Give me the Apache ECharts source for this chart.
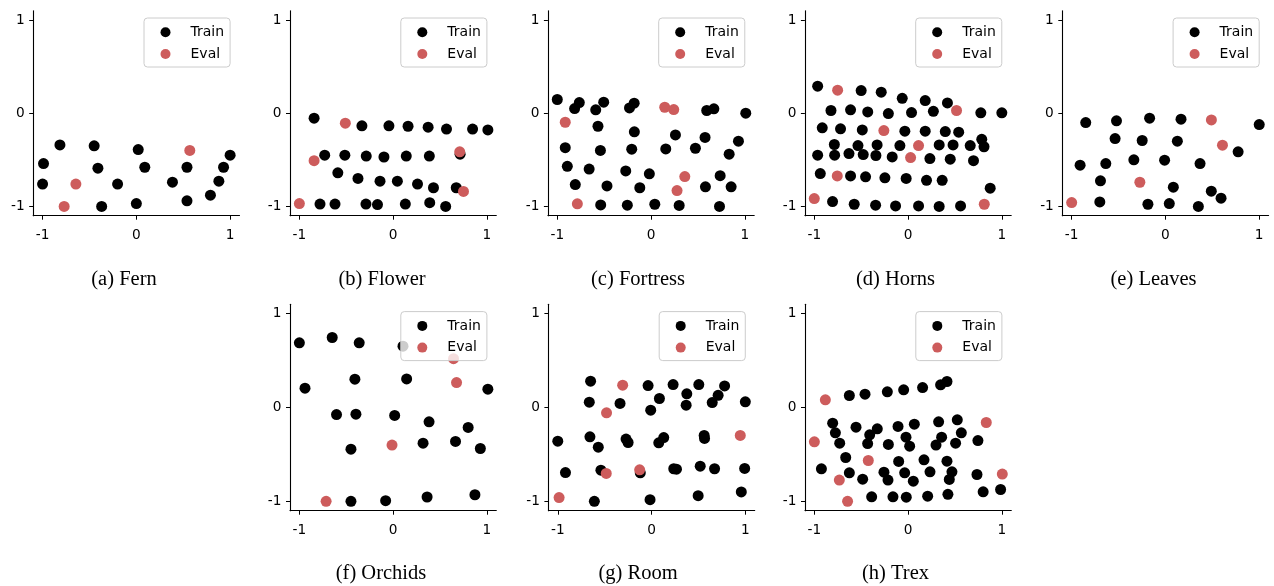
<!DOCTYPE html>
<html>
<head>
<meta charset="utf-8">
<script src="https://cdn.jsdelivr.net/npm/echarts@6/dist/echarts.min.js"></script>
<style>
  html, body { margin: 0; padding: 0; background: #fff; }
  #chart { width: 1274px; height: 586px; }
</style>
</head>
<body>
<div id="chart"></div>
<script>
// ---------- data ----------
const panelNames = ['(a) Fern', '(b) Flower', '(c) Fortress', '(d) Horns', '(e) Leaves', '(f) Orchids', '(g) Room', '(h) Trex'];
const tickValues = [-1, 0, 1];
const legendLabels = ['Train', 'Eval'];

const fernTrain = [[-1.0,-0.76],[-0.99,-0.54],[-0.815,-0.34],[-0.45,-0.35],[-0.41,-0.59],[-0.37,-1.0],[-0.20,-0.76],[0.02,-0.39],[0.0,-0.97],[0.09,-0.58],[0.385,-0.74],[0.54,-0.58],[0.54,-0.94],[0.79,-0.88],[0.88,-0.73],[0.93,-0.58],[1.0,-0.45]];
const fernEval = [[-0.645,-0.76],[-0.77,-1.0],[0.57,-0.40]];

const flowerTrain = [[-0.843,-0.054],[-0.333,-0.136],[-0.045,-0.136],[0.159,-0.14],[0.373,-0.15],[0.569,-0.17],[0.847,-0.17],[1.01,-0.18],[-0.73,-0.45],[-0.515,-0.45],[-0.287,-0.46],[-0.098,-0.47],[0.14,-0.46],[0.386,-0.46],[0.714,-0.44],[-0.59,-0.64],[-0.375,-0.70],[-0.14,-0.73],[0.045,-0.73],[0.26,-0.76],[0.43,-0.80],[0.673,-0.80],[-0.78,-0.975],[-0.62,-0.975],[-0.29,-0.975],[-0.167,-0.98],[0.13,-0.975],[0.39,-0.96],[0.56,-1.0]];
const flowerEval = [[-1.0,-0.97],[-0.843,-0.51],[-0.51,-0.107],[0.71,-0.415],[0.75,-0.84]];

const fortressTrain = [[-1.0,0.147],[-0.815,0.05],[-0.765,0.114],[-0.59,0.036],[-0.505,0.118],[-0.23,0.057],[-0.18,0.107],[0.594,0.029],[0.67,0.047],[1.01,0.0],[-0.566,-0.14],[-0.178,-0.20],[0.26,-0.233],[0.576,-0.26],[0.932,-0.30],[-0.915,-0.37],[-0.54,-0.40],[-0.206,-0.386],[0.157,-0.383],[0.473,-0.376],[0.833,-0.44],[-0.893,-0.57],[-0.66,-0.60],[-0.27,-0.62],[-0.018,-0.65],[0.737,-0.67],[-0.808,-0.766],[-0.47,-0.78],[-0.12,-0.80],[0.58,-0.79],[0.854,-0.79],[-0.537,-0.984],[-0.253,-0.987],[0.04,-0.977],[0.30,-0.99],[0.73,-1.0]];
const fortressEval = [[-0.915,-0.097],[-0.786,-0.973],[0.146,0.064],[0.242,0.039],[0.36,-0.68],[0.277,-0.83]];

const hornsTrain = [[-0.964,0.29],[-0.50,0.243],[-0.286,0.225],[-0.062,0.16],[0.183,0.136],[0.42,0.11],[-0.822,0.029],[-0.613,0.036],[-0.43,0.014],[-0.21,-0.004],[0.037,0.007],[0.27,0.02],[0.776,0.004],[1.0,0.004],[-0.915,-0.157],[-0.72,-0.168],[-0.488,-0.179],[-0.034,-0.193],[0.183,-0.193],[0.397,-0.197],[0.54,-0.204],[0.786,-0.28],[-0.786,-0.336],[-0.534,-0.347],[-0.33,-0.34],[-0.087,-0.347],[0.332,-0.34],[0.48,-0.34],[0.663,-0.347],[0.81,-0.36],[-0.964,-0.45],[-0.783,-0.45],[-0.63,-0.433],[-0.478,-0.444],[-0.343,-0.454],[-0.169,-0.469],[0.233,-0.487],[0.45,-0.494],[0.698,-0.51],[-0.936,-0.648],[-0.613,-0.673],[-0.453,-0.683],[-0.247,-0.694],[-0.02,-0.70],[0.197,-0.72],[0.364,-0.72],[0.876,-0.805],[-0.805,-0.948],[-0.574,-0.977],[-0.346,-0.987],[-0.133,-0.995],[0.112,-0.995],[0.332,-1.0],[0.56,-0.995]];
const hornsEval = [[-1.0,-0.916],[-0.751,0.247],[-0.258,-0.186],[0.112,-0.347],[0.027,-0.476],[-0.755,-0.673],[0.517,0.029],[0.813,-0.977]];

const leavesTrain = [[-0.85,-0.10],[-0.522,-0.082],[-0.169,-0.054],[0.166,-0.064],[1.0,-0.122],[-0.537,-0.272],[-0.248,-0.293],[0.127,-0.30],[0.775,-0.415],[-0.91,-0.558],[-0.636,-0.54],[-0.337,-0.50],[-0.009,-0.504],[0.369,-0.54],[-0.693,-0.726],[0.084,-0.794],[-0.70,-0.952],[-0.187,-0.977],[0.041,-0.97],[0.351,-1.0],[0.489,-0.837],[0.593,-0.912]];
const leavesEval = [[-1.0,-0.959],[-0.273,-0.741],[0.49,-0.072],[0.608,-0.343]];

const orchidsTrain = [[-1.0,0.69],[-0.65,0.746],[-0.362,0.69],[0.105,0.654],[-0.94,0.206],[-0.408,0.302],[0.144,0.305],[1.01,0.195],[-0.604,-0.075],[-0.397,-0.071],[0.016,-0.085],[0.383,-0.153],[0.80,-0.213],[-0.45,-0.444],[0.319,-0.38],[0.665,-0.362],[0.93,-0.437],[-0.45,-1.0],[-0.08,-0.993],[0.362,-0.954],[0.872,-0.93]];
const orchidsEval = [[-0.715,-1.0],[-0.012,-0.40],[0.644,0.52],[0.676,0.266]];

const roomTrain = [[-0.65,0.28],[-0.664,0.057],[-0.336,0.043],[-0.037,0.234],[-0.009,-0.028],[0.084,0.096],[0.23,0.245],[0.376,0.146],[0.369,0.025],[0.504,0.245],[0.647,0.053],[0.71,0.13],[0.779,0.23],[1.0,0.06],[-1.0,-0.359],[-0.657,-0.313],[-0.568,-0.423],[-0.272,-0.337],[-0.25,-0.373],[0.077,-0.377],[0.13,-0.32],[0.561,-0.298],[0.565,-0.33],[-0.918,-0.693],[-0.54,-0.668],[-0.12,-0.696],[0.237,-0.653],[0.266,-0.657],[0.519,-0.625],[0.672,-0.653],[0.993,-0.65],[-0.61,-1.0],[-0.016,-0.982],[0.497,-0.94],[0.957,-0.90]];
const roomEval = [[-0.986,-0.96],[-0.308,0.238],[-0.48,-0.057],[-0.483,-0.703],[-0.127,-0.664],[0.946,-0.298]];

const trexTrain = [[-0.627,0.128],[-0.46,0.142],[-0.222,0.167],[-0.048,0.188],[0.154,0.213],[0.346,0.242],[0.414,0.277],[-0.805,-0.167],[-0.776,-0.27],[-0.73,-0.38],[-0.556,-0.21],[-0.41,-0.291],[-0.432,-0.384],[-0.329,-0.227],[-0.211,-0.394],[-0.108,-0.202],[-0.023,-0.316],[0.016,-0.412],[0.066,-0.178],[0.325,-0.153],[0.357,-0.316],[0.297,-0.401],[0.524,-0.131],[0.567,-0.27],[0.506,-0.38],[0.744,-0.352],[-0.925,-0.654],[-0.666,-0.533],[-0.627,-0.696],[-0.485,-0.764],[-0.258,-0.689],[-0.215,-0.774],[-0.101,-0.575],[-0.037,-0.696],[0.055,-0.785],[0.169,-0.558],[0.233,-0.686],[0.414,-0.572],[0.467,-0.686],[0.439,-0.767],[0.734,-0.714],[-0.389,-0.952],[-0.162,-0.952],[-0.02,-0.956],[0.208,-0.945],[0.424,-0.925],[0.8,-0.899],[0.986,-0.874]];
const trexEval = [[-1.0,-0.366],[-0.883,0.082],[-0.734,-0.774],[-0.646,-1.0],[-0.425,-0.565],[0.833,-0.16],[1.004,-0.71]];

const trainSets = [fernTrain, flowerTrain, fortressTrain, hornsTrain, leavesTrain, orchidsTrain, roomTrain, trexTrain];
const evalSets = [fernEval, flowerEval, fortressEval, hornsEval, leavesEval, orchidsEval, roomEval, trexEval];

// ---------- layout ----------
const W = 206.3;
const gridPos = [
  { left: 33.2, top: 10.7, height: 205 },
  { left: 290.0, top: 10.7, height: 205 },
  { left: 547.9, top: 10.7, height: 205 },
  { left: 804.9, top: 10.7, height: 205 },
  { left: 1062.3, top: 10.7, height: 205 },
  { left: 290.0, top: 304.3, height: 206.4 },
  { left: 548.4, top: 304.3, height: 206.4 },
  { left: 805.0, top: 304.3, height: 206.4 }
];
const captionPos = [[124, 279.5], [382, 279.5], [638, 279.5], [895.5, 279.5], [1153.5, 279.5], [381, 573.5], [638, 573.5], [895.5, 573.5]];

const TICK_FONT = 'DejaVu Sans';
const TRAIN_COLOR = '#000000';
const EVAL_COLOR = '#cd5c5c';

const grids = [], xAxes = [], yAxes = [], series = [], legends = [], graphics = [];

gridPos.forEach((g, i) => {
  grids.push({ left: g.left, top: g.top, width: W, height: g.height, containLabel: false });
  const common = {
    type: 'value', gridIndex: i, min: -1.1, max: 1.1,
    splitLine: { show: false },
    axisLine: { show: true, onZero: false, lineStyle: { color: '#000', width: 1.1 } },
    axisTick: { show: true, customValues: tickValues, length: 4, inside: false, lineStyle: { color: '#000', width: 1 } },
    axisLabel: { show: true, customValues: tickValues, color: '#000', fontFamily: TICK_FONT, fontSize: 13.7,
      formatter: v => String(v) }
  };
  xAxes.push(Object.assign({}, common, { axisLabel: Object.assign({}, common.axisLabel, { margin: 12.5 }) }));
  yAxes.push(Object.assign({}, common, { axisLabel: Object.assign({}, common.axisLabel, { margin: 8.5 }) }));
  series.push({
    name: legendLabels[0], type: 'scatter', xAxisIndex: i, yAxisIndex: i,
    data: trainSets[i], symbolSize: 11, itemStyle: { color: TRAIN_COLOR, opacity: 1 },
    emphasis: { disabled: true }, z: 2
  });
  series.push({
    name: legendLabels[1], type: 'scatter', xAxisIndex: i, yAxisIndex: i,
    data: evalSets[i], symbolSize: 11, itemStyle: { color: EVAL_COLOR, opacity: 1 },
    emphasis: { disabled: true }, z: 3
  });
  legends.push({
    data: legendLabels.map(n => ({ name: n, icon: 'circle' })),
    orient: 'vertical',
    left: g.left + 110.8, top: g.top + 7.3,
    itemWidth: 10, itemHeight: 10, itemGap: 5.7,
    padding: [6.3, 6, 5, 16.5],
    backgroundColor: 'rgba(255,255,255,0.8)',
    borderColor: '#cccccc', borderWidth: 1, borderRadius: 3.5,
    selectedMode: false,
    textStyle: { color: '#000', fontFamily: TICK_FONT, fontSize: 14, lineHeight: 16, padding: [0, 0, 0, 15] },
    z: 10
  });
  graphics.push({
    type: 'text', x: captionPos[i][0], y: captionPos[i][1],
    style: { text: panelNames[i], fill: '#000', font: '20.5px "Liberation Serif"', textAlign: 'center', textVerticalAlign: 'middle' }
  });
});

const chart = echarts.init(document.getElementById('chart'), null, { renderer: 'canvas' });
chart.setOption({
  animation: false,
  backgroundColor: '#ffffff',
  grid: grids,
  xAxis: xAxes,
  yAxis: yAxes,
  series: series,
  legend: legends,
  graphic: graphics,
  tooltip: { show: false }
});
</script>
</body>
</html>
